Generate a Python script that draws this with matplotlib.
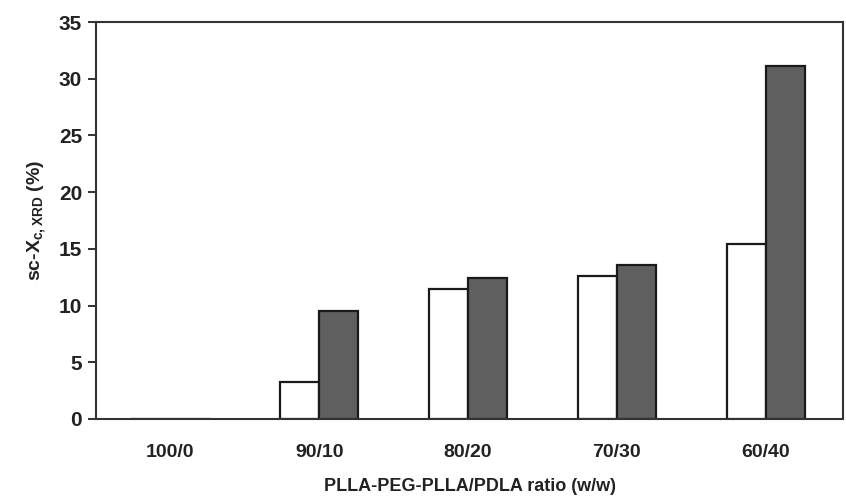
import matplotlib
matplotlib.use("Agg")
import matplotlib.pyplot as plt
import numpy as np

plt.rcParams.update(
    {
        "font.family": ["Liberation Sans", "DejaVu Sans"],
        "font.weight": "bold",
        "axes.labelweight": "bold",
        "mathtext.fontset": "custom",
        "mathtext.rm": "Liberation Sans:bold",
        "mathtext.bf": "Liberation Sans:bold",
        "mathtext.it": "Liberation Sans:bold",
    }
)

ratios = ["100/0", "90/10", "80/20", "70/30", "60/40"]
series_white = [0.0, 3.3, 11.5, 12.6, 15.4]
series_dark = [0.0, 9.5, 12.4, 13.6, 31.1]
yticks = [0, 5, 10, 15, 20, 25, 30, 35]

DARK = "#5f5f5f"
EDGE = "#1a1a1a"
TXT = "#222222"

fig = plt.figure(figsize=(8.46, 5.0), dpi=100)
ax = fig.add_axes([0.1135, 0.162, 0.883, 0.794])

x = np.arange(len(ratios))
w = 0.263
ax.bar(x - w / 2, series_white, w, color="white", edgecolor=EDGE, linewidth=1.6)
ax.bar(x + w / 2, series_dark, w, color=DARK, edgecolor=EDGE, linewidth=1.6)

ax.set_xlim(-0.5, 4.52)
ax.set_ylim(0, 35)
ax.set_yticks(yticks)
ax.set_xticks(x)
ax.set_xticklabels(ratios)

for s in ax.spines.values():
    s.set_linewidth(1.5)
    s.set_color("#333333")

ax.tick_params(axis="y", direction="out", length=6, width=1.3, pad=4, labelsize=15, colors=TXT)
ax.tick_params(axis="x", length=0, pad=18, labelsize=14, colors=TXT)

ax.set_ylabel(r"sc-X$_{\mathbf{c,XRD}}$ (%)", fontsize=14, fontweight="bold", labelpad=8, color=TXT)
ax.set_xlabel("PLLA-PEG-PLLA/PDLA ratio (w/w)", fontsize=13, fontweight="bold", labelpad=12, color=TXT)

fig.savefig("out.png", dpi=100, facecolor="white")
plt.close(fig)
